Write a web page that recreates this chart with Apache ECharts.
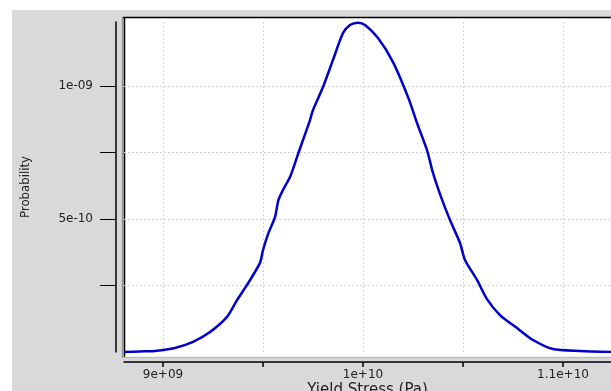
<!DOCTYPE html>
<html>
<head>
<meta charset="utf-8">
<script src="https://cdn.jsdelivr.net/npm/echarts@6/dist/echarts.min.js"></script>
<style>
  html, body { margin: 0; padding: 0; background: #fff; }
  #chart { width: 611px; height: 391px; }
</style>
</head>
<body>
<div id="chart"></div>
<script>
// yield stress (Pa) vs probability
const stress = [
  8.805e9, 8.885e9, 8.96e9, 9.06e9, 9.15e9, 9.235e9, 9.32e9, 9.37e9, 9.42e9, 9.485e9,
  9.50e9, 9.527e9, 9.56e9, 9.577e9, 9.60e9, 9.635e9, 9.66e9, 9.677e9, 9.70e9, 9.735e9,
  9.75e9, 9.80e9, 9.85e9, 9.90e9, 9.935e9, 9.975e9, 10.01e9, 10.075e9, 10.15e9, 10.227e9,
  10.27e9, 10.32e9, 10.35e9, 10.39e9, 10.435e9, 10.485e9, 10.51e9, 10.57e9, 10.62e9, 10.685e9,
  10.77e9, 10.85e9, 10.95e9, 11.085e9, 11.24e9
]
const prob = [
  0, 0.02e-10, 0.04e-10, 0.15e-10, 0.38e-10, 0.75e-10, 1.32e-10, 1.95e-10, 2.52e-10, 3.35e-10,
  3.83e-10, 4.47e-10, 5.07e-10, 5.71e-10, 6.09e-10, 6.58e-10, 7.10e-10, 7.48e-10, 7.97e-10, 8.72e-10,
  9.10e-10, 9.96e-10, 10.98e-10, 11.99e-10, 12.29e-10, 12.38e-10, 12.29e-10, 11.80e-10, 10.90e-10, 9.55e-10,
  8.61e-10, 7.59e-10, 6.73e-10, 5.83e-10, 4.96e-10, 4.10e-10, 3.46e-10, 2.71e-10, 1.99e-10, 1.39e-10,
  0.90e-10, 0.45e-10, 0.11e-10, 0.04e-10, 0
]

const xTicks = [9e9, 9.5e9, 1e10, 1.05e10, 1.1e10]
const xLabelVals = [9e9, 1e10, 1.1e10]
const xLabelText = ['9e+09', '1e+10', '1.1e+10']
const yTicks = [2.5e-10, 5e-10, 7.5e-10, 1e-9]
const yLabelVals = [5e-10, 1e-9]
const yLabelText = ['5e-10', '1e-09']

const points = stress.map((s, i) => [s, prob[i]])

const labelFont = { fontFamily: 'DejaVu Sans', fontSize: 12, color: '#222' }
const gridLine = { show: true, lineStyle: { color: '#d4d4d4', type: [2, 2], width: 1 } }

const option = {
  animation: false,
  backgroundColor: '#fff',
  graphic: [
    // grey panel behind everything
    { type: 'rect', z: -3, shape: { x: 12, y: 10, width: 599, height: 381 }, style: { fill: '#d9d9d9' } },
    // white plot box
    { type: 'rect', z: -2, shape: { x: 124, y: 17, width: 487, height: 340 }, style: { fill: '#fff' } },
    { type: 'line', z: -1, shape: { x1: 122.5, y1: 17, x2: 122.5, y2: 358 }, style: { stroke: '#999', lineWidth: 1.5 } },
    { type: 'line', z: -1, shape: { x1: 124.5, y1: 17, x2: 124.5, y2: 357 }, style: { stroke: '#000', lineWidth: 1.5 } },
    { type: 'line', z: -1, shape: { x1: 123, y1: 17.5, x2: 611, y2: 17.5 }, style: { stroke: '#000', lineWidth: 1.5 } },
    { type: 'line', z: -1, shape: { x1: 123, y1: 357.5, x2: 611, y2: 357.5 }, style: { stroke: '#bdbdbd', lineWidth: 1.5 } }
  ],
  grid: { left: 124, right: 0, top: 22, bottom: 39, outerBoundsMode: 'none', containLabel: false },
  xAxis: {
    type: 'value',
    min: 8.805e9,
    max: 11.24e9,
    offset: 10,
    name: 'Yield Stress (Pa)',
    nameLocation: 'middle',
    nameGap: 21,
    nameMoveOverlap: false,
    nameTextStyle: { fontFamily: 'DejaVu Sans', fontSize: 15, color: '#222' },
    axisLine: { show: true, onZero: false, lineStyle: { color: '#000', width: 1.5 } },
    axisTick: { show: true, length: 5, customValues: xTicks, lineStyle: { color: '#000', width: 1.5 } },
    axisLabel: {
      ...labelFont,
      margin: 7,
      customValues: xLabelVals,
      formatter: v => xLabelText[xLabelVals.indexOf(v)] || ''
    },
    splitLine: gridLine
  },
  yAxis: {
    type: 'value',
    min: 0,
    max: 1.2406e-9,
    offset: 8,
    name: 'Probability',
    nameLocation: 'middle',
    nameGap: 84,
    nameMoveOverlap: false,
    nameTextStyle: { fontFamily: 'DejaVu Sans Condensed', fontSize: 13, color: '#222' },
    axisLine: { show: true, onZero: false, lineStyle: { color: '#000', width: 1.5 } },
    axisTick: { show: true, length: 16, customValues: yTicks, lineStyle: { color: '#000', width: 1 } },
    axisLabel: {
      ...labelFont,
      margin: 23,
      customValues: yLabelVals,
      formatter: v => yLabelText[yLabelVals.indexOf(v)] || ''
    },
    splitLine: gridLine
  },
  series: [
    {
      type: 'line',
      data: points,
      symbol: 'none',
      smooth: 0.25,
      lineStyle: { color: '#0000cc', width: 2.5 }
    }
  ]
}

const myChart = echarts.init(document.getElementById('chart'), null, { renderer: 'canvas' })
myChart.setOption(option)
</script>
</body>
</html>
